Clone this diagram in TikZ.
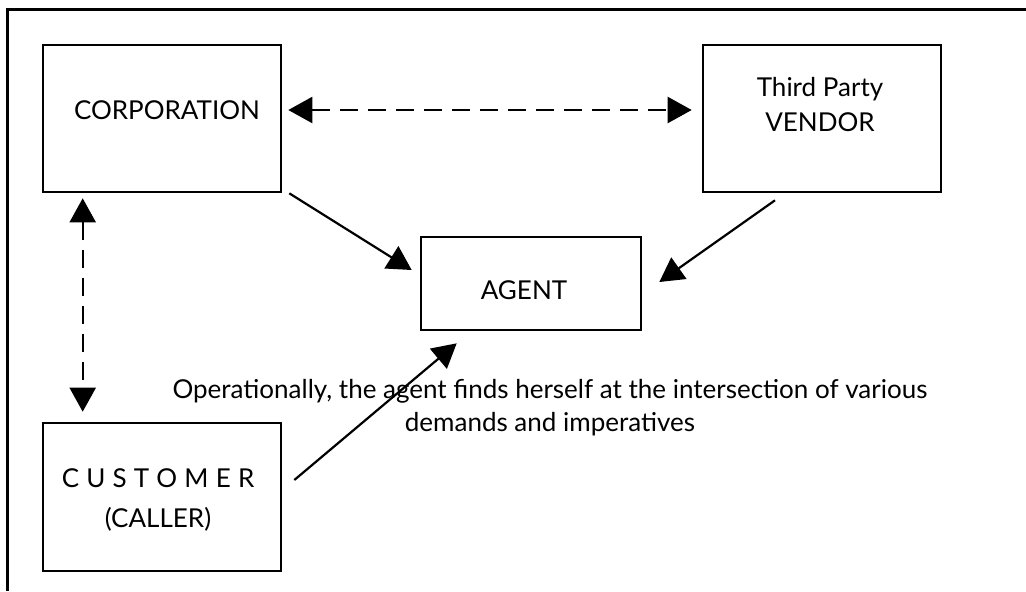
\documentclass[tikz,border=0pt]{standalone}
\usepackage{fontspec}
\setmainfont{Lato}
\usetikzlibrary{arrows.meta}

\begin{document}
\begin{tikzpicture}[x=0.5pt,y=-0.5pt,
		box/.style={draw=black, line width=1.3pt, rectangle, inner sep=0pt},
		txt/.style={black, align=center, font=\fontsize{13}{17.5}\selectfont},
		link/.style={draw=black, line width=1.1pt, -{Triangle[length=12pt,width=13pt]}},
		dlink/.style={link, {Triangle[length=12pt,width=13pt]}-{Triangle[length=12pt,width=13pt]}, dash pattern=on 9pt off 5pt}]
			\useasboundingbox (0,0) rectangle (1026,591);
			\draw[draw=black, line width=1.5pt] (7,591) -- (7,9) -- (1026,9);
			% boxes
			\node[box, minimum width=119pt, minimum height=73.5pt] (corp) at (162,118.5) {};
			\node[box, minimum width=119pt, minimum height=73.5pt] (vendor) at (822,118.5) {};
			\node[box, minimum width=110pt, minimum height=46.5pt] (agent) at (531,283.5) {};
			\node[box, minimum width=119pt, minimum height=74pt] (cust) at (162,497) {};
			\node[txt] (corptext) at (167,110) {CORPORATION};
			\node[txt] (vendortext) at (820,104.5) {Third Party\\VENDOR};
			\node[txt] (agenttext) at (524,290) {AGENT};
			\node[txt, font=\fontsize{13}{20}\selectfont] (custtext) at (158,500) {{\addfontfeatures{LetterSpace=2}C U S T O M E R}\\(CALLER)};
			\node[txt, font=\fontsize{13}{16.5}\selectfont] (note) at (550,408) {Operationally, the agent finds herself at the intersection of various\\demands and imperatives};
			% connectors
			\draw[dlink] ([xshift=3pt,yshift=4.25pt]corp.east) -- ([xshift=-5pt,yshift=4.25pt]vendor.west);
			\draw[dlink] ([xshift=20.5pt,yshift=-2.5pt]corp.south west) -- ([xshift=20.5pt,yshift=5pt]cust.north west);
			\draw[link] ([xshift=3.5pt]corp.south east) -- ([xshift=-4pt,yshift=6.75pt]agent.west);
			\draw[link] ([xshift=-23.5pt,yshift=-3.5pt]vendor.south) -- ([xshift=8.5pt,yshift=0.75pt]agent.east);
			\draw[link] ([xshift=6pt,yshift=8.5pt]cust.east) -- ([xshift=18.5pt,yshift=-6pt]agent.south west);
		\end{tikzpicture}
\end{document}
